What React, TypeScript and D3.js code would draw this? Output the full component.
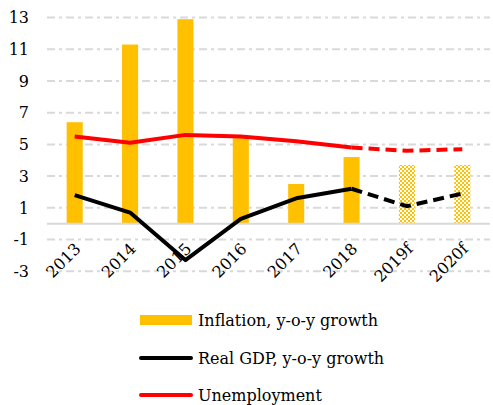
import React from "react";
import * as d3 from "d3";

const categories = ["2013", "2014", "2015", "2016", "2017", "2018", "2019f", "2020f"];
const inflation = [6.4, 11.3, 12.9, 5.4, 2.5, 4.2, 3.7, 3.7];
const gdp = [1.8, 0.7, -2.3, 0.3, 1.6, 2.2, 1.1, 1.9];
const unemployment = [5.5, 5.1, 5.6, 5.5, 5.2, 4.8, 4.6, 4.7];
const forecast = [false, false, false, false, false, false, true, true];
const yTicks = [13, 11, 9, 7, 5, 3, 1, -1, -3];
const legendLabels = ["Inflation, y-o-y growth", "Real GDP, y-o-y growth", "Unemployment"];

const W = 493, H = 405;
const FONT = "'DejaVu Serif', 'Liberation Serif', serif";

export default function App() {
  const x = d3.scaleBand<string>().domain(categories).range([47, 490]).paddingInner(0.71).paddingOuter(0.355);
  const y = d3.scaleLinear().domain([-3, 13]).range([271.2, 17.6]);
  const cx = (i: number) => (x(categories[i]) as number) + x.bandwidth() / 2;
  const lastActual = forecast.indexOf(true) - 1;
  const solidIdx = categories.map((_, i) => i).filter((i) => i <= lastActual);
  const dashIdx = categories.map((_, i) => i).filter((i) => i >= lastActual);
  const seg = (vals: number[], idx: number[]) =>
    d3.line<number>().x((i) => cx(i)).y((i) => y(vals[i]))(idx) as string;

  return (
    <div style={{ position: "absolute", left: 0, top: 0 }}>
      <svg width={W} height={H} style={{ display: "block" }}>
        <defs>
          <pattern id="chk" width="4" height="4" patternUnits="userSpaceOnUse">
            <rect width="4" height="4" fill="#ffffff" />
            <rect width="2" height="2" fill="#FFC000" />
            <rect x="2" y="2" width="2" height="2" fill="#FFC000" />
          </pattern>
        </defs>
        <rect width={W} height={H} fill="#fff" />
        {yTicks.map((t) => (
          <line key={t} x1={47} x2={490} y1={y(t)} y2={y(t)} stroke="#d9d9d9" strokeWidth={2} strokeDasharray="8,4,3,4" />
        ))}
        {yTicks.map((t) => (
          <text key={"l" + t} x={29} y={y(t)} dy="0.36em" textAnchor="end" fontFamily={FONT} fontSize={16} fill="#000">
            {t}
          </text>
        ))}
        {inflation.map((v, i) => (
          <rect
            key={i}
            x={x(categories[i])}
            y={y(Math.max(0, v))}
            width={x.bandwidth()}
            height={Math.abs(y(v) - y(0))}
            fill={forecast[i] ? "url(#chk)" : "#FFC000"}
          />
        ))}
        <line x1={47} x2={490} y1={y(0)} y2={y(0)} stroke="#d9d9d9" strokeWidth={2} />
        <path d={seg(unemployment, solidIdx)} fill="none" stroke="#FF0000" strokeWidth={4} strokeLinejoin="round" />
        <path d={seg(unemployment, dashIdx)} fill="none" stroke="#FF0000" strokeWidth={4} strokeDasharray="11,6" />
        <path d={seg(gdp, solidIdx)} fill="none" stroke="#000" strokeWidth={4} strokeLinejoin="round" />
        <path d={seg(gdp, dashIdx)} fill="none" stroke="#000" strokeWidth={4} strokeDasharray="11,6" />
        {categories.map((c, i) => (
          <text
            key={c}
            transform={`translate(${cx(i) - 1},${242}) rotate(-45)`}
            textAnchor="end"
            dy="0.7em"
            fontFamily={FONT}
            fontSize={16}
            fill="#000"
          >
            {c}
          </text>
        ))}
        {legendLabels.map((lab, i) => {
          const ly = [320, 358, 395][i];
          return (
            <g key={lab}>
              {i === 0 ? (
                <rect x={140} y={ly - 5} width={52} height={10} fill="#FFC000" />
              ) : (
                <line x1={141} x2={191} y1={ly} y2={ly} stroke={i === 1 ? "#000" : "#FF0000"} strokeWidth={4} strokeLinecap="round" />
              )}
              <text x={198} y={ly} dy="0.35em" fontFamily={FONT} fontSize={16} fill="#000">
                {lab}
              </text>
            </g>
          );
        })}
      </svg>
    </div>
  );
}
